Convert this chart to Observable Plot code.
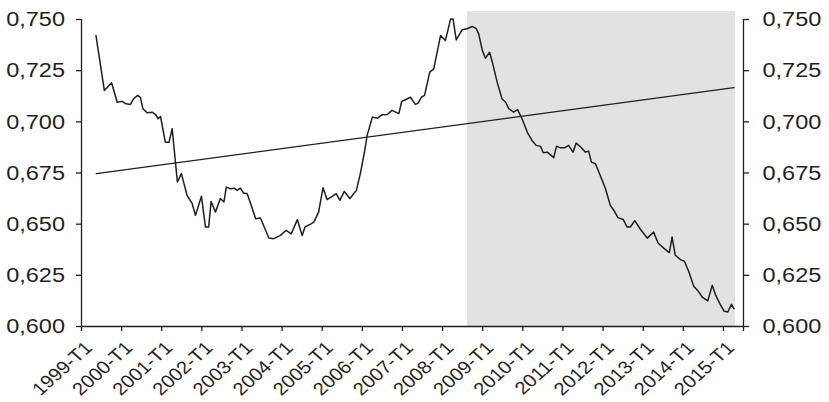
<!DOCTYPE html>
<html>
<head>
<meta charset="utf-8">
<script src="https://cdn.jsdelivr.net/npm/d3@7"></script>
<script src="https://cdn.jsdelivr.net/npm/@observablehq/plot@0.6"></script>
<style>
  html, body { margin: 0; padding: 0; background: #fff; }
</style>
</head>
<body>
<div id="chart"></div>
<script>
// Monthly index, positions in decimal years
const dates = [
  1999.36, 1999.57, 1999.75, 1999.89, 2000.01, 2000.11, 2000.22, 2000.30, 2000.40, 2000.47,
  2000.53, 2000.64, 2000.76, 2000.84, 2000.91, 2000.97, 2001.09, 2001.18, 2001.26, 2001.39,
  2001.49, 2001.63, 2001.76, 2001.84, 2001.99, 2002.09, 2002.17, 2002.23, 2002.34, 2002.46,
  2002.55, 2002.61, 2002.71, 2002.81, 2002.88, 2002.96, 2003.04, 2003.13, 2003.23, 2003.34,
  2003.46, 2003.67, 2003.79, 2003.96, 2004.10, 2004.23, 2004.38, 2004.50, 2004.57, 2004.71,
  2004.79, 2004.91, 2005.02, 2005.12, 2005.25, 2005.35, 2005.44, 2005.55, 2005.69, 2005.85,
  2005.95, 2006.06, 2006.12, 2006.25, 2006.38, 2006.49, 2006.62, 2006.74, 2006.91, 2006.98,
  2007.07, 2007.20, 2007.32, 2007.39, 2007.47, 2007.55, 2007.68, 2007.78, 2007.95, 2008.07,
  2008.20, 2008.26, 2008.34, 2008.49, 2008.61, 2008.74, 2008.84, 2008.90, 2008.99, 2009.07,
  2009.17, 2009.24, 2009.36, 2009.48, 2009.57, 2009.65, 2009.77, 2009.87, 2009.98, 2010.12,
  2010.23, 2010.33, 2010.44, 2010.51, 2010.61, 2010.77, 2010.84, 2010.94, 2011.04, 2011.14,
  2011.25, 2011.33, 2011.44, 2011.56, 2011.64, 2011.71, 2011.81, 2011.93, 2012.06, 2012.18,
  2012.27, 2012.37, 2012.50, 2012.60, 2012.68, 2012.79, 2012.93, 2013.10, 2013.26, 2013.37,
  2013.51, 2013.65, 2013.72, 2013.80, 2013.93, 2014.03, 2014.14, 2014.26, 2014.37, 2014.47,
  2014.61, 2014.72, 2014.80, 2014.93, 2015.02, 2015.11, 2015.20, 2015.26
];
const values = [
  0.7422, 0.7153, 0.7191, 0.7096, 0.7100, 0.7088, 0.7085, 0.7113, 0.7129, 0.7118,
  0.7064, 0.7044, 0.7047, 0.7037, 0.7015, 0.7026, 0.6900, 0.6900, 0.6966, 0.6706,
  0.6747, 0.6641, 0.6600, 0.6543, 0.6636, 0.6486, 0.6486, 0.6611, 0.6559, 0.6625,
  0.6608, 0.6681, 0.6673, 0.6676, 0.6665, 0.6676, 0.6652, 0.6649, 0.6592, 0.6527,
  0.6530, 0.6432, 0.6429, 0.6445, 0.6470, 0.6453, 0.6522, 0.6445, 0.6486, 0.6500,
  0.6510, 0.6559, 0.6678, 0.6620, 0.6636, 0.6649, 0.6616, 0.6660, 0.6625, 0.6665,
  0.6747, 0.6860, 0.6934, 0.7023, 0.7018, 0.7035, 0.7036, 0.7056, 0.7040, 0.7100,
  0.7108, 0.7120, 0.7085, 0.7091, 0.7120, 0.7129, 0.7243, 0.7259, 0.7422, 0.7397,
  0.7503, 0.7503, 0.7400, 0.7450, 0.7455, 0.7466, 0.7455, 0.7430, 0.7349, 0.7311,
  0.7340, 0.7292, 0.7194, 0.7113, 0.7096, 0.7064, 0.7047, 0.7060, 0.7015, 0.6945,
  0.6909, 0.6885, 0.6880, 0.6849, 0.6852, 0.6825, 0.6881, 0.6873, 0.6873, 0.6885,
  0.6852, 0.6896, 0.6877, 0.6852, 0.6857, 0.6803, 0.6795, 0.6738, 0.6673, 0.6592,
  0.6567, 0.6532, 0.6523, 0.6486, 0.6486, 0.6517, 0.6475, 0.6432, 0.6461, 0.6408,
  0.6383, 0.6361, 0.6437, 0.6348, 0.6327, 0.6318, 0.6266, 0.6196, 0.6173, 0.6144,
  0.6125, 0.6201, 0.6156, 0.6104, 0.6074, 0.6071, 0.6108, 0.6087
];

// Linear trend over the whole period
const trendDates = [1999.37, 2015.26];
const trendValues = [0.6747, 0.7167];

// Shaded period
const shadeStart = 2008.62;
const shadeEnd = 2015.30;
const shadeTop = 0.7539;

// Axes
const xStart = 1999;
const xEnd = 2015.5;
const yearTicks = [1999, 2000, 2001, 2002, 2003, 2004, 2005, 2006, 2007, 2008,
                   2009, 2010, 2011, 2012, 2013, 2014, 2015];
const yearLabels = yearTicks.map(y => `${y}-T1`);
const yTicks = [0.600, 0.625, 0.650, 0.675, 0.700, 0.725, 0.750];
const yLabels = ["0,600", "0,625", "0,650", "0,675", "0,700", "0,725", "0,750"];

const series = dates.map((d, i) => ({date: d, value: values[i]}));
const trend = trendDates.map((d, i) => ({date: d, value: trendValues[i]}));
const yRows = yTicks.map((t, i) => ({tick: t, label: yLabels[i]}));
const xRows = yearTicks.map((t, i) => ({tick: t, label: yearLabels[i]}));

const ink = "#1f1f1f";
const noLabel = () => "";
// labels are set in a slightly wide face
const widen = 1.12;

const chart = Plot.plot({
  width: 829,
  height: 402,
  marginLeft: 81,
  marginRight: 86,
  marginTop: 19,
  marginBottom: 76,
  style: {
    fontFamily: "'Liberation Sans', Arial, sans-serif",
    fontSize: "21px",
    color: ink,
    background: "#fff"
  },
  x: {domain: [xStart, xEnd], axis: null},
  y: {domain: [0.600, 0.750], axis: null},
  marks: [
    Plot.rectY([{x1: shadeStart, x2: shadeEnd}], {
      x1: "x1", x2: "x2", y1: 0.600, y2: shadeTop, fill: "#e1e2e4"
    }),
    Plot.line(trend, {x: "date", y: "value", stroke: ink, strokeWidth: 1.4}),
    Plot.line(series, {x: "date", y: "value", stroke: ink, strokeWidth: 1.5, strokeLinejoin: "round"}),
    // axis lines and ticks
    Plot.ruleX([xStart, xEnd], {y1: 0.600, y2: 0.750, stroke: ink, strokeWidth: 1.3}),
    Plot.ruleY([0.600], {x1: xStart, x2: xEnd, stroke: ink, strokeWidth: 1.3}),
    Plot.axisY({anchor: "left", ticks: yTicks, tickFormat: noLabel, label: null,
      tickSize: 5, stroke: ink, strokeWidth: 1.3}),
    Plot.axisY({anchor: "right", ticks: yTicks, tickFormat: noLabel, label: null,
      tickSize: 5, stroke: ink, strokeWidth: 1.3}),
    Plot.axisX({ticks: [...yearTicks, xEnd], tickFormat: noLabel, label: null,
      tickSize: 5, stroke: ink, strokeWidth: 1.3}),
    // tick labels
    Plot.text(yRows, {x: xStart, y: "tick", text: "label", textAnchor: "end",
      lineAnchor: "middle", dx: -16.5, fill: ink}),
    Plot.text(yRows, {x: xEnd, y: "tick", text: "label", textAnchor: "start",
      lineAnchor: "middle", dx: 19, fill: ink}),
    Plot.text(xRows, {x: "tick", y: 0.600, text: "label", textAnchor: "end",
      lineAnchor: "bottom", rotate: -45, fontSize: 18, dx: 12, dy: 22.5, fill: ink})
  ]
});

// stretch each label horizontally about its own anchor
chart.querySelectorAll("text[transform]").forEach(t => {
  const tf = t.getAttribute("transform");
  t.setAttribute("transform", tf.replace(/^(translate\([^)]*\))/, `$1 scale(${widen},1)`));
});

document.getElementById("chart").append(chart);
</script>
</body>
</html>
